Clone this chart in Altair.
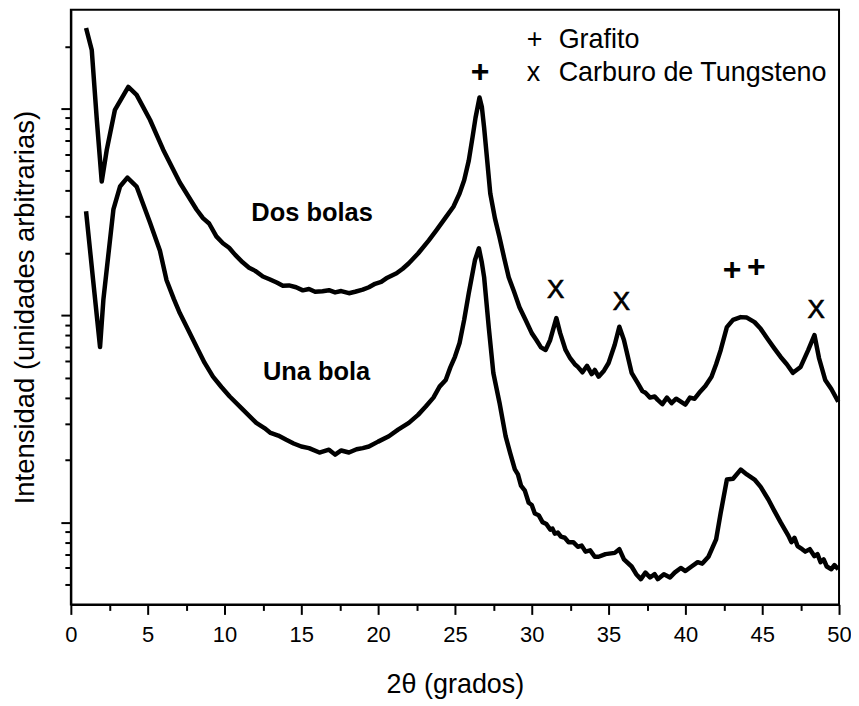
import altair as alt
import pandas as pd

# ---- data (2theta in degrees, intensity in arbitrary units) ----
dos_x = [0.99, 1.36, 1.69, 2.01, 2.34, 2.87, 3.74, 4.28, 5.15, 6.01, 7.09, 8.18, 8.6, 9.0,
         9.47, 9.9, 10.3, 10.7, 11.18, 11.6, 12.0, 12.5, 12.93, 13.4, 13.8, 14.2, 14.66, 15.1,
         15.5, 15.9, 16.38, 16.8, 17.2, 17.6, 18.1, 18.5, 19.0, 19.4, 19.8, 20.2, 20.6, 21.2,
         21.6, 22.0, 22.6, 23.3, 23.8, 24.4, 24.9, 25.3, 25.6, 25.9, 26.15, 26.34, 26.6, 26.75,
         26.9, 27.1, 27.3, 27.6, 27.9, 28.2, 28.5, 28.85, 29.2, 29.6, 30.0, 30.3, 30.6, 30.9,
         31.2, 31.6, 31.85, 32.2, 32.5, 32.8, 33.0, 33.3, 33.6, 33.9, 34.1, 34.35, 34.7, 35.0,
         35.4, 35.7, 36.0, 36.5, 36.9, 37.2, 37.4, 37.7, 38.0, 38.2, 38.5, 38.8, 39.1, 39.4,
         39.7, 40.0, 40.3, 40.6, 40.9, 41.3, 41.7, 42.0, 42.3, 42.7, 43.1, 43.6, 44.0, 44.5,
         44.9, 45.4, 45.8, 46.2, 46.6, 47.0, 47.5, 48.0, 48.4, 48.7, 49.1, 49.5, 49.95]
dos_y = [24490, 19190, 8820, 4434, 6324, 9856, 12720, 11640, 8820, 6324, 4385, 3249, 2950, 2780,
         2408, 2230, 2120, 1960, 1804, 1700, 1640, 1540, 1494, 1440, 1390, 1395, 1367, 1320,
         1340, 1300, 1308, 1322, 1290, 1310, 1279, 1300, 1330, 1367, 1420, 1450, 1520, 1597,
         1680, 1785, 1990, 2303, 2580, 2974, 3350, 3881, 4500, 5597, 7300, 9020, 11300, 10200,
         8070, 5600, 3881, 2950, 2382, 1900, 1528, 1300, 1095, 950, 820, 760, 700, 680,
         760, 969, 820, 680, 620, 580, 563, 530, 570, 520, 544, 505, 540, 588,
         720, 880, 760, 527, 470, 430, 422, 400, 405, 390, 372, 400, 376, 395,
         382, 370, 400, 395, 422, 455, 504, 580, 680, 877, 950, 980, 975, 927,
         860, 760, 690, 629, 580, 527, 563, 680, 803, 620, 487, 440, 382]

una_x = [0.99, 1.45, 1.9, 2.12, 2.77, 3.2, 3.68, 4.28, 5.15, 5.8, 6.23, 6.7, 7.09, 7.6,
         8.18, 8.7, 9.25, 9.8, 10.34, 11.2, 12.07, 12.6, 13.0, 13.5, 14.02, 14.5, 15.0, 15.5,
         16.18, 16.8, 17.2, 17.6, 18.1, 18.6, 19.0, 19.4, 20.0, 20.7, 21.3, 22.0, 22.6, 23.1,
         23.6, 24.0, 24.4, 24.7, 25.0, 25.3, 25.6, 25.9, 26.3, 26.56, 26.75, 26.9, 27.2, 27.5,
         27.9, 28.3, 28.6, 28.9, 29.1, 29.3, 29.55, 29.8, 30.0, 30.2, 30.45, 30.7, 30.95, 31.2,
         31.35, 31.5, 31.7, 31.9, 32.15, 32.4, 32.7, 33.0, 33.25, 33.5, 33.8, 34.1, 34.35, 34.8,
         35.4, 35.7, 36.0, 36.5, 36.8, 37.1, 37.4, 37.7, 38.0, 38.2, 38.6, 39.0, 39.3, 39.7,
         40.0, 40.4, 40.8, 41.1, 41.5, 42.0, 42.3, 42.7, 43.1, 43.6, 44.0, 44.5, 44.9, 45.4,
         45.8, 46.2, 46.7, 46.9, 47.1, 47.3, 47.6, 47.8, 48.1, 48.4, 48.6, 48.8, 49.0, 49.2,
         49.5, 49.7, 49.95]
una_y = [3188, 1477, 702.5, 1197, 3249, 4195, 4634, 4195, 2813, 2050, 1477, 1200, 1025, 860,
         705, 590, 505, 450, 405, 350, 302, 285, 270, 262, 250, 240, 232, 228,
         217, 224, 212, 222, 217, 225, 228, 232, 245, 260, 280, 302, 330, 362,
         400, 452, 487, 560, 630, 735, 950, 1279, 1845, 2108, 1800, 1528, 877, 526,
         378, 260, 215, 180, 170, 150, 142, 124, 121, 110, 108, 100, 98, 92,
         93, 88, 89, 85, 84, 80, 80, 76, 77, 72, 73, 68, 68, 70,
         71, 74, 66, 61, 56, 53, 57, 54, 56, 53, 56, 54, 57, 60,
         58, 61, 64, 63, 68, 82.5, 111, 160.6, 162, 179.5, 170, 160.6, 148, 128.6,
         113, 99.7, 86, 80, 84, 76.6, 74, 72, 74, 68.4, 70, 64, 66, 61,
         59.2, 62, 59.2]

# peak markers
mark_x = [26.63, 31.56, 35.83, 43.03, 44.62, 48.51]
mark_y = [15060, 1327, 1162, 1651, 1721, 1065]
mark_t = ["+", "X", "X", "+", "+", "X"]

# curve labels
lab_x = [11.75, 12.5]
lab_y = [2853, 487]
lab_t = ["Dos bolas", "Una bola"]

# legend (text block inside the plot)
leg_sym_x = [29.68, 29.68]
leg_txt_x = [31.75, 31.75]
leg_y = [19680, 13600]
leg_sym = ["+", "x"]
leg_txt = ["Grafito", "Carburo de Tungsteno"]

# axes
x_major = [i * 5 for i in range(11)]
x_minor = [2.5 + i * 5 for i in range(10)]
y_major = [100, 1000, 10000]
y_minor = ([m * 10 for m in range(5, 10)] + [m * 100 for m in range(2, 10)]
           + [m * 1000 for m in range(2, 10)] + [20000])

FONT = "Liberation Sans"

rows = []
for i, (a, b) in enumerate(zip(dos_x, dos_y)):
    rows.append({"serie": "Dos bolas", "x": a, "y": b, "o": i})
for i, (a, b) in enumerate(zip(una_x, una_y)):
    rows.append({"serie": "Una bola", "x": a, "y": b, "o": i})
df = pd.DataFrame(rows)

marks_df = pd.DataFrame({"x": mark_x, "y": mark_y, "t": mark_t})
labs_df = pd.DataFrame({"x": lab_x, "y": lab_y, "t": lab_t})
legs_df = pd.DataFrame({"x": leg_sym_x, "y": leg_y, "t": leg_sym})
legt_df = pd.DataFrame({"x": leg_txt_x, "y": leg_y, "t": leg_txt})

xscale = alt.Scale(domain=[0, 50], nice=False, zero=False)
yscale = alt.Scale(type="log", domain=[40, 30000], nice=False)

x_axis_major = alt.Axis(
    orient="bottom", values=x_major, tickSize=10, labelFontSize=22, labelPadding=10,
    labelOverlap=False, labelFlush=False, title="2θ (grados)", titleFontSize=27, titlePadding=26,
)
x_axis_minor = alt.Axis(
    orient="bottom", values=x_minor, tickSize=6, labels=False, domain=False, title=None,
)
y_axis_major = alt.Axis(
    orient="left", values=y_major, tickSize=10, labels=False,
    title="Intensidad (unidades arbitrarias)", titleFontSize=27.5, titlePadding=20,
)
y_axis_minor = alt.Axis(
    orient="left", values=y_minor, tickSize=6, labels=False, domain=False, title=None,
)

lines = alt.Chart(df).mark_line(color="black", strokeWidth=4.5, strokeJoin="round").encode(
    x=alt.X("x:Q", scale=xscale, axis=x_axis_major),
    y=alt.Y("y:Q", scale=yscale, axis=y_axis_major),
    detail="serie:N",
    order="o:Q",
)


def txt(data, size, weight="normal", align="center", baseline="middle", xaxis=None, yaxis=None,
        stroke_w=0):
    kw = {}
    if stroke_w:
        kw = {"stroke": "black", "strokeWidth": stroke_w}
    return alt.Chart(data).mark_text(
        font=FONT, fontSize=size, fontWeight=weight, align=align, baseline=baseline, color="black", **kw
    ).encode(
        x=alt.X("x:Q", scale=xscale, axis=xaxis),
        y=alt.Y("y:Q", scale=yscale, axis=yaxis),
        text="t:N",
    )


plus_layer = txt(marks_df[marks_df.t == "+"], 32, weight="bold", xaxis=x_axis_minor, yaxis=y_axis_minor)
x_layer = txt(marks_df[marks_df.t == "X"], 26, stroke_w=0.7)
labs_layer = txt(labs_df, 25.5, weight="bold", align="left", baseline="alphabetic")
legs_layer = txt(legs_df, 27, align="left", baseline="alphabetic")
legt_layer = txt(legt_df, 27, align="left", baseline="alphabetic")

chart = alt.layer(lines, plus_layer, x_layer, labs_layer, legs_layer, legt_layer).resolve_axis(
    x="independent", y="independent"
).properties(
    width=770,
    height=596,
    autosize=alt.AutoSizeParams(type="none"),
    padding={"left": 63, "top": 1, "right": 12, "bottom": 100},
).configure_view(
    stroke="black", strokeWidth=2
).configure_axis(
    domainColor="black", domainWidth=2, tickColor="black", tickWidth=2,
    labelColor="black", titleColor="black", labelFont=FONT, titleFont=FONT,
    titleFontWeight="normal", grid=False,
)

chart.save("out.html", embed_options={"renderer": "svg", "actions": False})
